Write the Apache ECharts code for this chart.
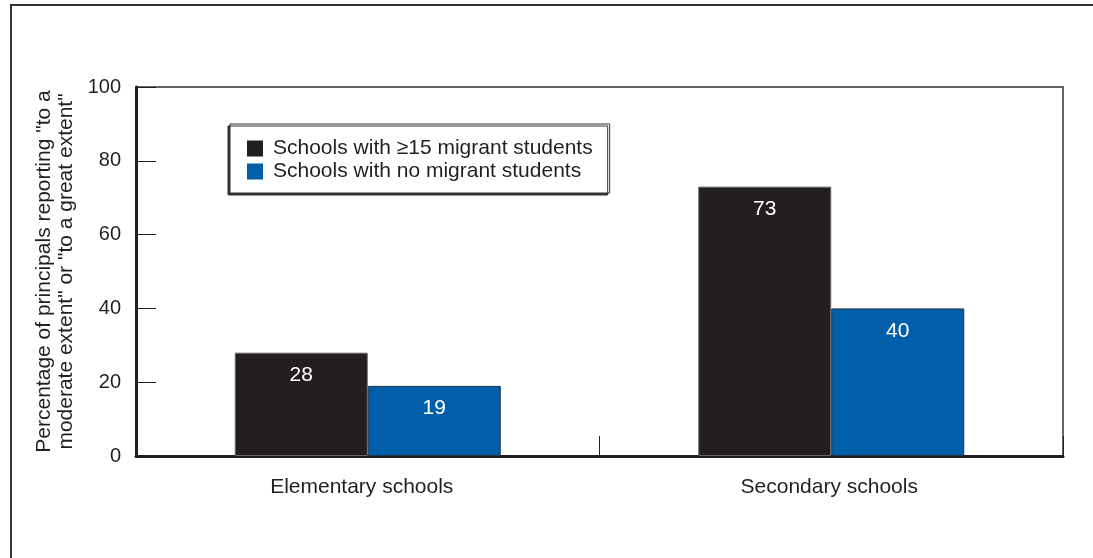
<!DOCTYPE html>
<html>
<head>
<meta charset="utf-8">
<script src="https://cdn.jsdelivr.net/npm/echarts@6/dist/echarts.min.js"></script>
<style>
html,body{margin:0;padding:0;background:#fff;}
#chart{width:1093px;height:558px;}
</style>
</head>
<body>
<div id="chart"></div>
<script>
const categories = ['Elementary schools', 'Secondary schools'];
const seriesNames = ['Schools with \u226515 migrant students', 'Schools with no migrant students'];
const withMigrant = [28, 73];
const noMigrant = [19, 40];
const yTicks = [0, 20, 40, 60, 80, 100];
const yAxisTitle = 'Percentage of principals reporting "to a\nmoderate extent" or "to a great extent"';

const FONT = '"Liberation Sans", Arial, sans-serif';
const chart = echarts.init(document.getElementById('chart'), null, {renderer: 'canvas'});

const labelStyle = {
  show: true, position: 'insideTop', distance: 12,
  color: '#fff', fontSize: 21, fontFamily: FONT
};

chart.setOption({
  animation: false,
  backgroundColor: '#fff',
  textStyle: {fontFamily: FONT},
  graphic: [{
    type: 'rect', z: -10,
    shape: {x: 11, y: 5, width: 1200, height: 700},
    style: {fill: 'none', stroke: '#333', lineWidth: 2}
  }],
  grid: {
    left: 136, right: 30, top: 87, bottom: 102,
    show: true, borderColor: '#333', borderWidth: 1.5, backgroundColor: 'transparent'
  },
  legend: {
    orient: 'vertical', left: 230, top: 124,
    padding: [14, 17, 11, 17],
    itemWidth: 16, itemHeight: 16, itemGap: 2,
    icon: 'rect',
    itemStyle: {borderWidth: 0},
    backgroundColor: '#fff', borderColor: '#333', borderWidth: 1,
    shadowColor: '#333', shadowBlur: 0, shadowOffsetX: -2, shadowOffsetY: 2,
    textStyle: {fontSize: 21, lineHeight: 21, color: '#231f20', fontFamily: FONT, padding: [0, 0, 0, 5]},
    data: seriesNames
  },
  xAxis: {
    type: 'category', data: categories,
    axisLine: {lineStyle: {color: '#231f20', width: 3}},
    axisTick: {show: true, interval: 0, inside: true, length: 20, lineStyle: {color: '#231f20', width: 1}},
    axisLabel: {
      fontSize: 21, color: '#231f20', margin: 21, fontFamily: FONT,
      formatter: (v, i) => i === 0 ? '{a|' + v + '}' : '{b|' + v + '}',
      rich: {
        a: {fontSize: 21, color: '#231f20', fontFamily: FONT, padding: [0, 12, 0, 0]},
        b: {fontSize: 21, color: '#231f20', fontFamily: FONT, padding: [0, 4, 0, 0]}
      }
    }
  },
  yAxis: {
    type: 'value', min: 0, max: 100, interval: 20,
    name: yAxisTitle, nameLocation: 'middle', nameRotate: 90, nameGap: 53,
    nameTextStyle: {fontSize: 21, color: '#231f20', lineHeight: 22, fontFamily: FONT},
    axisLine: {show: true, lineStyle: {color: '#231f20', width: 3}},
    axisTick: {show: true, inside: true, length: 20, lineStyle: {color: '#231f20', width: 1}},
    splitLine: {show: false},
    axisLabel: {
      fontSize: 20, color: '#231f20', margin: 15, fontFamily: FONT,
      formatter: v => yTicks.includes(v) ? String(v) : ''
    }
  },
  series: [{
    name: seriesNames[0], type: 'bar', data: withMigrant,
    barWidth: 133, barGap: '0%',
    itemStyle: {color: '#231f20', borderColor: '#666', borderWidth: 1},
    label: labelStyle
  }, {
    name: seriesNames[1], type: 'bar', data: noMigrant,
    barWidth: 133, barGap: '0%',
    itemStyle: {color: '#005fa8', borderColor: '#22344a', borderWidth: 1},
    label: labelStyle
  }]
});
</script>
</body>
</html>
